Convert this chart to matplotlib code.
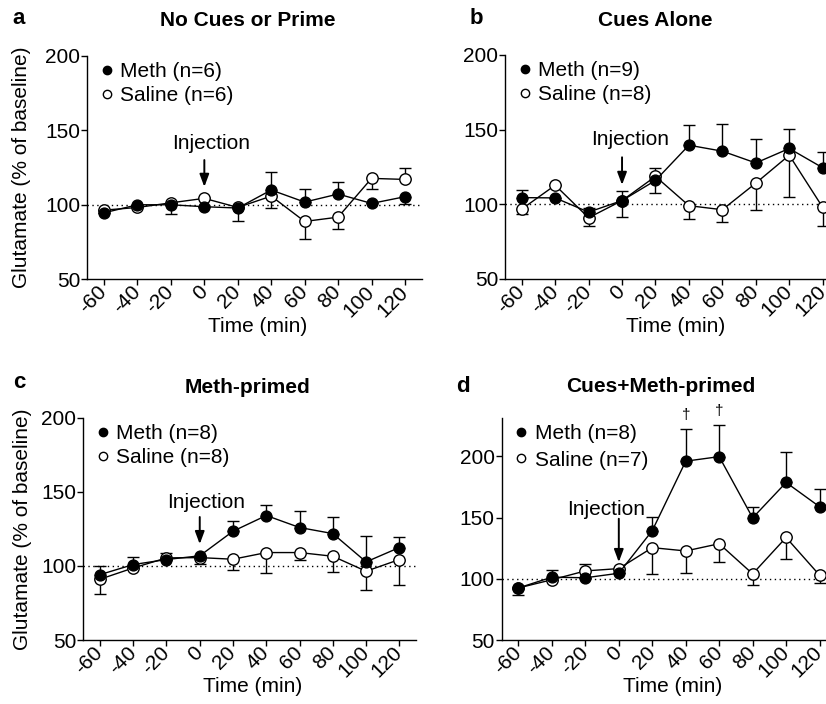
#!/usr/bin/env python3
# Glutamate time course, 4 panels (a-d), meth vs saline
import numpy as np
import matplotlib
matplotlib.use('Agg')
import matplotlib.pyplot as plt
from matplotlib.lines import Line2D

plt.rcParams['font.family'] = ['Liberation Sans', 'DejaVu Sans']

#%% data ======================================================================
time = [-60, -40, -20, 0, 20, 40, 60, 80, 100, 120]
xtick_labels = ['-60', '-40', '-20', '0', '20', '40', '60', '80', '100', '120']
ytick_vals = [50, 100, 150, 200]

# a: No Cues or Prime
a_meth    = [94.6, 100.0, 100.0, 98.7, 97.8, 109.9, 101.8, 107.2, 100.9, 105.4]
a_meth_lo = [0, 0, 6.0, 0, 9.0, 0, 0, 0, 0, 5.0]
a_meth_hi = [0, 0, 0, 0, 0, 12.3, 8.7, 7.8, 0, 0]
a_sal     = [96.4, 98.2, 101.3, 104.3, 98.2, 105.8, 88.8, 91.7, 117.7, 117.0]
a_sal_lo  = [0, 0, 0, 0, 0, 8.1, 11.9, 8.0, 7.4, 0]
a_sal_hi  = [0, 0, 0, 0, 0, 0, 0, 0, 0, 7.9]

# b: Cues Alone
b_meth    = [104.5, 104.3, 94.8, 102.5, 116.0, 139.6, 135.6, 127.7, 137.4, 124.5]
b_meth_lo = [0, 0, 0, 0, 8.6, 0, 0, 0, 0, 0]
b_meth_hi = [5.0, 0, 2.5, 6.5, 0, 13.5, 18.2, 16.0, 13.3, 10.8]
b_sal     = [96.8, 112.8, 91.0, 102.5, 118.7, 99.1, 96.4, 114.2, 132.9, 98.0]
b_sal_lo  = [3.4, 0, 5.4, 10.8, 0, 8.6, 8.3, 18.0, 27.7, 12.6]
b_sal_hi  = [0, 0, 0, 0, 5.6, 0, 0, 0, 0, 0]

# c: Meth-primed
c_meth    = [94.1, 100.9, 104.3, 106.8, 123.4, 134.0, 125.9, 121.8, 102.7, 112.4]
c_meth_lo = [0, 0, 0, 0, 0, 0, 0, 0, 0, 0]
c_meth_hi = [5.9, 5.2, 0, 0, 6.8, 7.2, 11.3, 11.3, 17.3, 7.2]
c_sal     = [91.0, 98.6, 105.4, 105.6, 104.5, 109.0, 109.0, 106.5, 96.4, 104.3]
c_sal_lo  = [9.7, 0, 0, 4.0, 7.0, 13.5, 5.2, 10.8, 12.8, 17.3]
c_sal_hi  = [0, 0, 3.0, 0, 0, 0, 0, 0, 0, 0]

# d: Cues+Meth-primed
d_meth    = [92.5, 101.3, 100.8, 104.5, 139.3, 196.0, 199.7, 149.7, 178.6, 158.8]
d_meth_lo = [5.9, 0, 0, 0, 0, 0, 0, 0, 0, 0]
d_meth_hi = [0, 5.9, 0, 0, 11.2, 26.2, 25.7, 9.1, 24.9, 14.4]
d_sal     = [92.5, 99.2, 106.4, 108.3, 125.4, 122.7, 128.6, 104.0, 133.7, 102.9]
d_sal_lo  = [0, 0, 0, 0, 21.4, 18.2, 15.0, 9.4, 17.4, 6.4]
d_sal_hi  = [0, 0, 5.6, 0, 0, 0, 0, 0, 0, 0]
d_dagger_t = [40, 60]

#%% helpers ===================================================================
FS = 15
W, H = 826, 704


def draw_panel(ax, meth, mlo, mhi, sal, slo, shi, n_meth, n_sal, ytop=200,
               leg_y=0.972, leg_sp=0.25):
    """One panel: two series with one-sided error bars"""
    ax.axhline(100, ls=(0, (1, 2.5)), lw=1, color='k', zorder=1)
    ax.errorbar(time, sal, yerr=[slo, shi], fmt='none', ecolor='k',
                elinewidth=1, capsize=4, capthick=1, zorder=2)
    ax.errorbar(time, meth, yerr=[mlo, mhi], fmt='none', ecolor='k',
                elinewidth=1, capsize=4, capthick=1, zorder=2)
    ax.plot(time, sal, '-o', color='k', lw=1, ms=8.2, mfc='white',
            mec='k', mew=1, zorder=3)
    ax.plot(time, meth, '-o', color='k', lw=1, ms=7.8, mfc='k',
            mec='k', zorder=4)

    ax.set_xlim(-70, 130)
    ax.set_ylim(50, ytop)
    ax.set_xticks(time)
    ax.set_xticklabels(xtick_labels, rotation=45, ha='right', va='center',
                       rotation_mode='anchor')
    ax.set_yticks(ytick_vals)
    ax.tick_params(axis='both', direction='out', length=4, width=1,
                   labelsize=FS, color='k')
    ax.tick_params(axis='y', pad=1)
    ax.tick_params(axis='x', pad=3)
    for s in ['top', 'right']:
        ax.spines[s].set_visible(False)
    for s in ['left', 'bottom']:
        ax.spines[s].set_linewidth(1)
    ax.set_xlabel('Time (min)', fontsize=FS)
    ax.xaxis.set_label_coords(0.51, -0.21)
    ax.xaxis.label.set_va('center')

    h = [Line2D([], [], ls='none', marker='o', ms=6, mfc='k', mec='k'),
         Line2D([], [], ls='none', marker='o', ms=6, mfc='white', mec='k',
                mew=1)]
    ax.legend(h, ['Meth (n=%d)' % n_meth, 'Saline (n=%d)' % n_sal],
              loc='upper left', bbox_to_anchor=(0.04, leg_y), frameon=False,
              fontsize=FS, handlelength=0.6, handletextpad=0.35,
              labelspacing=leg_sp, borderpad=0, borderaxespad=0)


def injection(ax, tx, ty, y0, y1):
    ax.text(tx, ty, 'Injection', fontsize=FS, ha='center', va='baseline')
    ax.annotate('', xy=(0, y1), xytext=(0, y0),
                arrowprops=dict(arrowstyle='-|>,head_width=0.28,head_length=0.75',
                                color='k', lw=1.4, shrinkA=0, shrinkB=0))


def px_axes(x0, x1, ytop_px, ybot_px):
    return [x0 / W, 1 - ybot_px / H, (x1 - x0) / W, (ybot_px - ytop_px) / H]


#%% figure ====================================================================
fig = plt.figure(figsize=(W / 100, H / 100), dpi=100)

ax_a = fig.add_axes(px_axes(87.3, 421.7, 55.7, 279.3))
ax_b = fig.add_axes(px_axes(505.0, 839.4, 55.0, 279.0))
ax_c = fig.add_axes(px_axes(83.3, 416.0, 417.7, 640.0))
ax_d = fig.add_axes(px_axes(501.7, 836.3, 418.3, 640.0))

draw_panel(ax_a, a_meth, a_meth_lo, a_meth_hi, a_sal, a_sal_lo, a_sal_hi, 6, 6)
draw_panel(ax_b, b_meth, b_meth_lo, b_meth_hi, b_sal, b_sal_lo, b_sal_hi, 9, 8)
draw_panel(ax_c, c_meth, c_meth_lo, c_meth_hi, c_sal, c_sal_lo, c_sal_hi, 8, 8)
draw_panel(ax_d, d_meth, d_meth_lo, d_meth_hi, d_sal, d_sal_lo, d_sal_hi, 8, 7,
           ytop=231, leg_y=0.975, leg_sp=0.38)

injection(ax_a, 4, 137.5, 130, 112)
injection(ax_b, 5, 139.4, 131.5, 113)
injection(ax_c, 3.6, 138.8, 133, 114.7)
injection(ax_d, -7.4, 151.9, 149, 113.6)

for t in d_dagger_t:
    i = time.index(t)
    ax_d.text(t, d_meth[i] + d_meth_hi[i] + 6, '\u2020', fontsize=11,
              ha='center', va='bottom', clip_on=False)

for ax in (ax_a, ax_c):
    ax.set_ylabel('Glutamate (% of baseline)', fontsize=FS)
ax_a.yaxis.set_label_coords(-0.196, 0.5)
ax_c.yaxis.set_label_coords(-0.184, 0.5)
for ax in (ax_a, ax_c):
    ax.yaxis.label.set_va('center')

# panel letters and titles
fig.text(19 / W, 1 - 18 / H, 'a', fontsize=16, fontweight='bold',
         ha='center', va='center')
fig.text(247.5 / W, 1 - 20.7 / H, 'No Cues or Prime', fontsize=FS,
         fontweight='bold', ha='center', va='center')
fig.text(476 / W, 1 - 18 / H, 'b', fontsize=16, fontweight='bold',
         ha='center', va='center')
fig.text(655 / W, 1 - 20.7 / H, 'Cues Alone', fontsize=FS,
         fontweight='bold', ha='center', va='center')
fig.text(19 / W, 1 - 383 / H, 'c', fontsize=16, fontweight='bold',
         ha='center', va='center')
fig.text(247.8 / W, 1 - 387.3 / H, 'Meth-primed', fontsize=FS,
         fontweight='bold', ha='center', va='center')
fig.text(463 / W, 1 - 386 / H, 'd', fontsize=16, fontweight='bold',
         ha='center', va='center')
fig.text(660.5 / W, 1 - 386 / H, 'Cues+Meth-primed', fontsize=FS,
         fontweight='bold', ha='center', va='center')

fig.savefig('out.png', dpi=100, facecolor='white')
